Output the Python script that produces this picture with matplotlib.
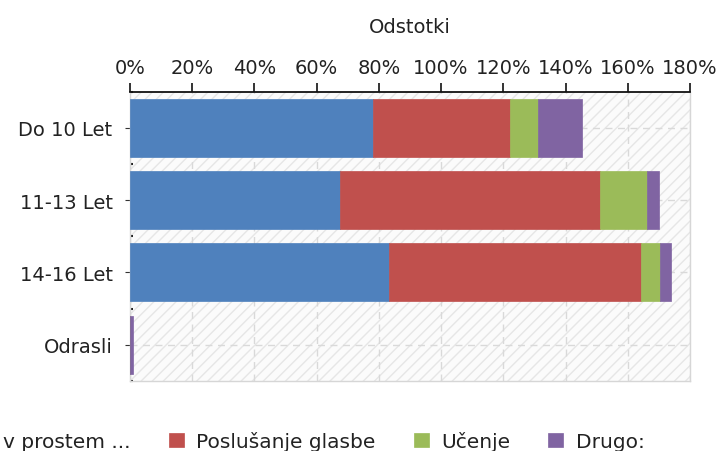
#! /usr/bin/env python3
# -*- coding: utf-8 -*-
import matplotlib
matplotlib.use('Agg')
import matplotlib.pyplot as plt
from matplotlib.patches import Rectangle
from matplotlib.ticker import FuncFormatter
import numpy as np

categories = ['Do 10 Let', '11-13 Let', '14-16 Let', 'Odrasli']
series_names = ['v prostem ...', 'Poslušanje glasbe', 'Učenje', 'Drugo:']
prosti_cas = [78.0, 67.4, 83.2, 0.0]
glasba = [44.3, 83.8, 81.2, 0.0]
ucenje = [8.7, 15.1, 6.0, 0.0]
drugo = [14.4, 3.8, 3.6, 1.0]
colors = ['#4F81BD', '#C0504D', '#9BBB59', '#8064A2']
x_ticks = [0, 20, 40, 60, 80, 100, 120, 140, 160, 180]


def to_percent(x, position):
    return '%d%%' % x


def main():
    plt.rcParams['font.family'] = ['DejaVu Sans']
    fs = 14
    fig = plt.figure(figsize=(7.2, 4.52), dpi=100)
    ax = fig.add_axes([130 / 720, 1 - 382 / 452, (690 - 130) / 720, 289.5 / 452])

    # hatched background
    bg = Rectangle((0, 0), 1, 1, transform=ax.transAxes, facecolor='#fbfbfb',
                   edgecolor='#e6e6e6', hatch='///', lw=0, zorder=0)
    ax.add_patch(bg)

    y = np.arange(len(categories))
    left = np.zeros(len(categories))
    for name, vals, c in zip(series_names, [prosti_cas, glasba, ucenje, drugo], colors):
        vals = np.array(vals)
        ax.barh(y, vals, left=left, height=0.8, color=c, label=name, zorder=3,
                edgecolor=c, lw=0.5)
        left += vals

    ax.set_ylim(3.5, -0.5)
    ax.set_xlim(0, 180)
    ax.set_yticks(y)
    ax.set_yticklabels(categories, fontsize=fs, color='#222222')
    ax.set_yticks(np.arange(-0.5, 4, 1), minor=True)
    ax.tick_params(axis='y', which='major', length=3.6, color='#333333', pad=9)
    ax.tick_params(axis='y', which='minor', length=2.5, width=1.5, color='#222222',
                   direction='in')

    ax.xaxis.tick_top()
    ax.xaxis.set_label_position('top')
    ax.set_xticks(x_ticks)
    ax.xaxis.set_major_formatter(FuncFormatter(to_percent))
    ax.tick_params(axis='x', length=6.5, width=1.2, color='#111111', pad=4,
                   labelsize=fs, labelcolor='#222222')
    ax.set_xlabel('Odstotki', fontsize=fs, labelpad=19, color='#222222')

    ax.grid(True, color='#d9d9d9', ls=(0, (5, 4)), lw=1, zorder=1)
    ax.set_axisbelow(True)

    ax.spines['top'].set_color('#111111')
    ax.spines['top'].set_linewidth(1.3)
    for s in ['bottom', 'right', 'left']:
        ax.spines[s].set_color('#d6d6d6')
        ax.spines[s].set_linewidth(1)

    handles, labels = ax.get_legend_handles_labels()
    fig.legend(handles, labels, loc='center left',
               bbox_to_anchor=(-24 / 720, 1 - 442 / 452), ncol=4, frameon=False,
               fontsize=14.5, handlelength=0.75, handleheight=0.75,
               handletextpad=0.6, columnspacing=1.9, borderaxespad=0,
               borderpad=0, labelcolor='#222222')

    fig.savefig('out.png', dpi=100)


if __name__ == '__main__':
    main()
